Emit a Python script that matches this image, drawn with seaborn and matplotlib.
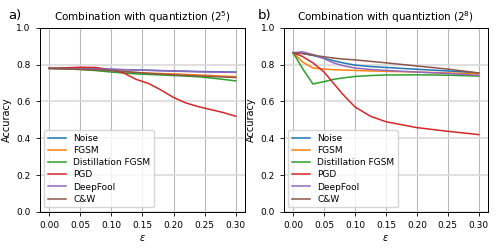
import numpy as np
import pandas as pd
import matplotlib
matplotlib.use("Agg")
import matplotlib.pyplot as plt
import seaborn as sns

# Data
attacks = ["Noise", "FGSM", "Distillation FGSM", "PGD", "DeepFool", "C&W"]

eps_a = [0.0, 0.025, 0.05, 0.075, 0.1, 0.12, 0.14, 0.16, 0.18, 0.2, 0.22, 0.24, 0.26, 0.28, 0.3]
acc_a = {
    "Noise":             [0.780, 0.780, 0.779, 0.777, 0.775, 0.773, 0.771, 0.770, 0.768, 0.766, 0.765, 0.763, 0.762, 0.761, 0.760],
    "FGSM":              [0.780, 0.777, 0.774, 0.771, 0.768, 0.763, 0.757, 0.754, 0.752, 0.750, 0.747, 0.744, 0.741, 0.738, 0.735],
    "Distillation FGSM": [0.780, 0.778, 0.774, 0.768, 0.760, 0.755, 0.750, 0.747, 0.744, 0.741, 0.738, 0.734, 0.728, 0.720, 0.712],
    "PGD":               [0.780, 0.783, 0.786, 0.785, 0.772, 0.755, 0.720, 0.698, 0.662, 0.622, 0.592, 0.572, 0.556, 0.540, 0.520],
    "DeepFool":          [0.780, 0.779, 0.778, 0.776, 0.775, 0.773, 0.771, 0.769, 0.767, 0.765, 0.763, 0.761, 0.760, 0.759, 0.758],
    "C&W":               [0.780, 0.778, 0.775, 0.772, 0.768, 0.763, 0.758, 0.753, 0.749, 0.745, 0.742, 0.739, 0.736, 0.733, 0.730],
}

eps_b = [0.0, 0.015, 0.032, 0.05, 0.065, 0.08, 0.1, 0.125, 0.15, 0.2, 0.25, 0.3]
acc_b = {
    "Noise":             [0.865, 0.862, 0.850, 0.835, 0.822, 0.810, 0.798, 0.790, 0.785, 0.775, 0.766, 0.755],
    "FGSM":              [0.865, 0.815, 0.782, 0.776, 0.773, 0.771, 0.769, 0.766, 0.764, 0.760, 0.755, 0.750],
    "Distillation FGSM": [0.865, 0.780, 0.695, 0.708, 0.720, 0.728, 0.736, 0.741, 0.744, 0.745, 0.743, 0.738],
    "PGD":               [0.865, 0.845, 0.810, 0.760, 0.700, 0.640, 0.570, 0.520, 0.490, 0.458, 0.438, 0.420],
    "DeepFool":          [0.865, 0.870, 0.855, 0.833, 0.810, 0.795, 0.782, 0.774, 0.769, 0.760, 0.752, 0.742],
    "C&W":               [0.865, 0.860, 0.852, 0.843, 0.836, 0.831, 0.826, 0.818, 0.810, 0.793, 0.776, 0.755],
}

titles = ["Combination with quantiztion ($2^5$)", "Combination with quantiztion ($2^8$)"]
labels = ["a)", "b)"]


def to_long(eps, acc):
    rows = []
    for name in attacks:
        for e, v in zip(eps, acc[name]):
            rows.append({"eps": e, "acc": v, "attack": name})
    return pd.DataFrame(rows)


plt.rcParams["font.family"] = ["DejaVu Sans"]
plt.rcParams["font.size"] = 7

fig = plt.figure(figsize=(4.98, 2.49), dpi=100)
axes = [fig.add_axes([0.080, 0.149, 0.412, 0.739]),
        fig.add_axes([0.570, 0.149, 0.410, 0.739])]
palette = sns.color_palette("tab10", len(attacks))
lab_x = [-0.156, -0.13]

for i, (ax, eps, acc, title, lab) in enumerate(zip(axes, [eps_a, eps_b], [acc_a, acc_b], titles, labels)):
    df = to_long(eps, acc)
    sns.lineplot(data=df, x="eps", y="acc", hue="attack", hue_order=attacks,
                 palette=palette, linewidth=1.1, ax=ax)
    ax.set_ylim(0, 1.0)
    ax.set_xlim(-0.015, 0.315)
    ax.set_xticks(np.arange(0, 0.31, 0.05))
    ax.set_yticks(np.arange(0, 1.01, 0.2))
    ax.grid(True, axis="x", color="#b8b8b8", linewidth=0.8)
    ax.grid(True, axis="y", color="#dadada", linewidth=1.2)
    ax.set_axisbelow(True)
    ax.tick_params(labelsize=6.5, length=3, width=0.6)
    for s in ax.spines.values():
        s.set_linewidth(0.7)
    ax.set_xlabel(r"$\varepsilon$", fontsize=7, labelpad=2)
    ax.set_ylabel("Accuracy", fontsize=7, labelpad=3)
    ax.set_title(title, fontsize=7.5, pad=5)
    ax.legend(loc="lower left", fontsize=6.5, frameon=True, handlelength=2.0,
              labelspacing=0.35, borderpad=0.4, title=None)
    ax.text(lab_x[i], 1.10, lab, transform=ax.transAxes, fontsize=9.5, va="top")

fig.savefig("out.png", dpi=100)
